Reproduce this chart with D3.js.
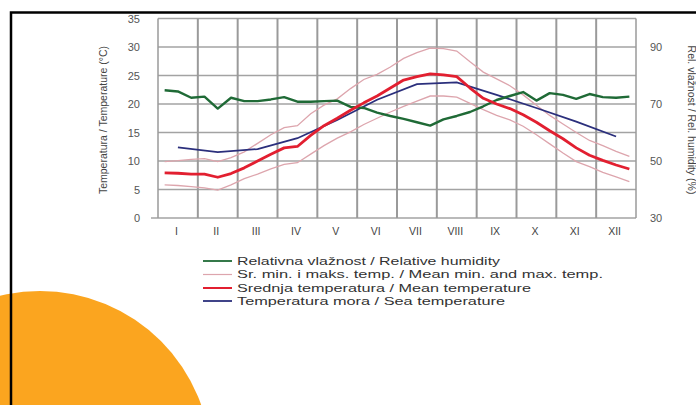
<!DOCTYPE html>
<html><head><meta charset="utf-8">
<script src="https://cdn.jsdelivr.net/npm/d3@7"></script>
<style>body{margin:0;background:#fff}svg{display:block}</style>
</head><body>
<svg id="c" width="696" height="405"></svg>
<script>
const months = ["I","II","III","IV","V","VI","VII","VIII","IX","X","XI","XII"];
const tempTicks = [0,5,10,15,20,25,30,35];
const humTicks = [30,50,70,90];
// dekad (10-day) series
const humidity = [74.8,74.4,72.2,72.6,68.4,72.2,71.0,71.0,71.6,72.4,70.8,70.8,71.0,71.2,69.0,68.6,67.0,65.8,64.8,63.6,62.4,64.6,65.8,67.2,69.2,71.4,72.8,74.2,71.2,73.8,73.2,71.8,73.5,72.4,72.2,72.6];
const meanTemp = [7.9,7.85,7.7,7.7,7.15,7.8,8.8,10.0,11.2,12.3,12.55,14.5,16.2,17.5,18.9,20.2,21.4,22.8,24.2,24.8,25.3,25.1,24.8,22.8,21.0,20.0,19.2,18.1,16.8,15.3,13.9,12.3,11.0,10.1,9.3,8.6];
const maxTemp = [9.9,10.05,10.3,10.4,9.9,10.6,11.6,13.1,14.6,15.85,16.2,18.3,19.8,20.9,22.7,24.3,25.2,26.5,28.0,29.0,29.8,29.7,29.3,27.4,25.6,24.4,23.2,21.6,19.8,18.0,16.5,15.0,13.6,12.7,11.7,10.8];
const minTemp = [5.8,5.7,5.5,5.3,4.9,5.8,6.9,7.7,8.6,9.4,9.7,11.2,12.7,14.0,15.1,16.4,17.5,18.6,19.6,20.5,21.4,21.4,21.2,20.1,19.0,18.0,17.2,16.1,14.6,13.0,11.4,9.9,9.0,8.0,7.2,6.4];
// monthly series
const seaTemp = [12.4,11.55,12.1,14.0,17.2,20.75,23.5,23.8,21.6,19.3,16.9,14.3];
const legendLabels = ["Relativna vlažnost / Relative humidity","Sr. min. i maks. temp. / Mean min. and max.  temp.","Srednja temperatura / Mean temperature","Temperatura mora / Sea temperature"];

const svg = d3.select("#c");
const X0 = 158, X1 = 636, YT = 18.5, YB = 218;
const x = d3.scaleLinear().domain([0,12]).range([X0,X1]);
const y = d3.scaleLinear().domain([0,35]).range([YB,YT]);
const yh = d3.scaleLinear().domain([30,100]).range([YB,YT]);
const dek = i => (i+0.5)/3;
const mon = i => i+0.5;

// background orange circle
svg.append("circle").attr("cx",40).attr("cy",462).attr("r",171).attr("fill","#fba51f");
// border
svg.append("path").attr("d","M11,405 V12.5 H696").attr("fill","none").attr("stroke","#000").attr("stroke-width",2.5);

const g = svg.append("g");
// horizontal grid
g.selectAll(".hg").data(tempTicks).enter().append("line")
  .attr("x1",d=>d===0?151:X0).attr("x2",X1).attr("y1",d=>y(d)).attr("y2",d=>y(d))
  .attr("stroke","#a3a3a3").attr("stroke-width",1.5);
// vertical grid
g.selectAll(".vg").data(d3.range(0,13)).enter().append("line")
  .attr("x1",d=>x(d)).attr("x2",d=>x(d)).attr("y1",YT).attr("y2",YB)
  .attr("stroke","#9a9a9a").attr("stroke-width",d=>(d===0||d===12)?1.5:2);

// axes labels
const tf = "Liberation Sans, Arial, sans-serif";
const leftAxis = d3.axisLeft(y).tickValues(tempTicks).tickSize(0).tickPadding(17);
const la = svg.append("g").attr("transform",`translate(${X0-1},0)`).call(leftAxis);
la.select(".domain").remove();
la.selectAll("text").attr("font-family",tf).attr("font-size",11).attr("fill","#555").attr("dy","0.35em");
const rightAxis = d3.axisRight(yh).tickValues(humTicks).tickSize(0).tickPadding(14);
const ra = svg.append("g").attr("transform",`translate(${X1},0)`).call(rightAxis);
ra.select(".domain").remove();
ra.selectAll("text").attr("font-family",tf).attr("font-size",11).attr("fill","#555").attr("dy","0.35em");
const bottomAxis = d3.axisBottom(x).tickValues(months.map((m,i)=>mon(i))).tickFormat((d,i)=>months[i]).tickSize(0).tickPadding(13);
const ba = svg.append("g").attr("transform",`translate(-2,${YB})`).call(bottomAxis);
ba.select(".domain").remove();
ba.selectAll("text").attr("font-family",tf).attr("font-size",10.5).attr("fill","#444").attr("dy","0.35em");

// axis titles
svg.append("text").attr("transform","translate(107,120) rotate(-90)").attr("text-anchor","middle")
  .attr("font-family",tf).attr("font-size",10.5).attr("fill","#444").text("Temperatura / Temperature (°C)");
svg.append("text").attr("transform","translate(687.5,120) rotate(90)").attr("text-anchor","middle")
  .attr("font-family",tf).attr("font-size",10.5).attr("fill","#444").text("Rel. vlažnost / Rel. humidity (%)");

// lines
const lineD = (xf, ys) => d3.line().x((d,i)=>x(xf(i))).y(d=>ys(d)).curve(d3.curveLinear);
const plot = svg.append("g");
plot.append("path").datum(maxTemp).attr("d",lineD(dek,y)).attr("fill","none").attr("stroke","#dda5ad").attr("stroke-width",1.3);
plot.append("path").datum(minTemp).attr("d",lineD(dek,y)).attr("fill","none").attr("stroke","#dda5ad").attr("stroke-width",1.3);
plot.append("path").datum(seaTemp).attr("d",lineD(mon,y)).attr("fill","none").attr("stroke","#2b2f7c").attr("stroke-width",1.8);
plot.append("path").datum(humidity).attr("d",lineD(dek,yh)).attr("fill","none").attr("stroke","#1f6a36").attr("stroke-width",2.4).attr("stroke-linejoin","round");
plot.append("path").datum(meanTemp).attr("d",lineD(dek,y)).attr("fill","none").attr("stroke","#e21f30").attr("stroke-width",2.8).attr("stroke-linejoin","round");

// legend
const legColors = ["#1f6a36","#dda5ad","#e21f30","#2b2f7c"];
const legW = [1.8,1.2,2,1.8];
const legLen = [263,366,294,268];
const legY = [261,274.5,288,301];
const lg = svg.append("g");
legendLabels.forEach((t,i)=>{
  lg.append("line").attr("x1",203).attr("x2",232).attr("y1",legY[i]).attr("y2",legY[i]).attr("stroke",legColors[i]).attr("stroke-width",legW[i]);
  lg.append("text").attr("x",237).attr("y",legY[i]).attr("dy","0.35em").attr("font-family",tf).attr("font-size",11)
    .attr("fill","#333").attr("textLength",legLen[i]).attr("lengthAdjust","spacingAndGlyphs").text(t);
});
</script>
</body></html>
